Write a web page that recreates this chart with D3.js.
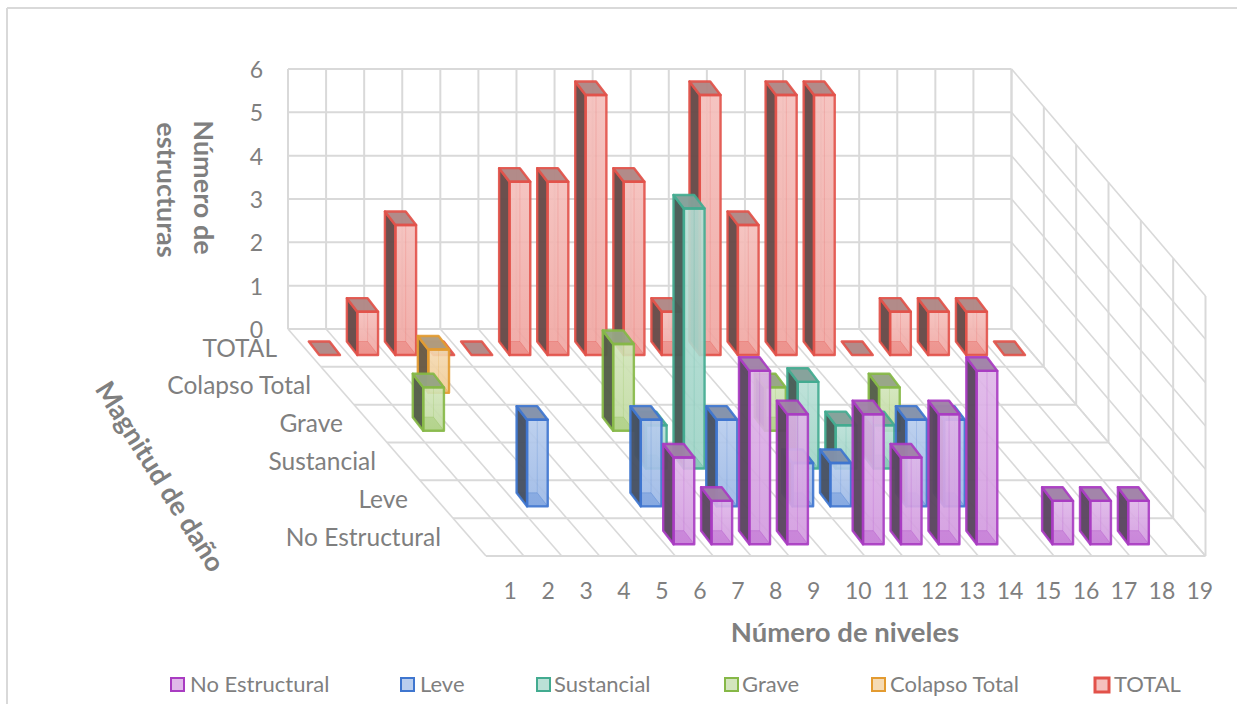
<!DOCTYPE html>
<html><head><meta charset="utf-8">
<script src="https://cdn.jsdelivr.net/npm/d3@7/dist/d3.min.js"></script>
<style>html,body{margin:0;padding:0;background:#fff;overflow:hidden}svg{display:block}
text{font-family:Lato,"Open Sans",sans-serif;fill:#7f7f7f}</style></head><body>
<script>
const categories = d3.range(1, 20).map(String);
const rowLabels = ["TOTAL", "Colapso Total", "Grave", "Sustancial", "Leve", "No Estructural"];
const valueTicks = [0, 1, 2, 3, 4, 5, 6];
const legendNames = ["No Estructural", "Leve", "Sustancial", "Grave", "Colapso Total", "TOTAL"];
const _ = null;
//                  1  2  3  4  5  6  7  8  9 10 11 12 13 14 15 16 17 18 19
const totalVals   = [0, 1, 3, 0, 0, 4, 4, 6, 4, 1, 6, 3, 6, 6, 0, 1, 1, 1, 0];
const colapsoVals = [_, _, 1, _, _, _, _, _, _, _, _, _, _, _, _, _, _, _, _];
const graveVals   = [_, 1, _, _, _, _, 2, _, _, _, 1, _, _, 1, _, _, _, _, _];
const sustVals    = [_, _, _, _, _, _, 1, 6, _, _, 2, 1, 1, _, _, _, _, _, _];
const leveVals    = [_, _, 2, _, _, 2, _, 2, _, 1, 1, _, 2, 2, _, _, _, _, _];
const noEstVals   = [_, _, _, _, _, 2, 1, 4, 3, _, 3, 2, 3, 4, _, 1, 1, 1, _];
const rowSeries = [totalVals, colapsoVals, graveVals, sustVals, leveVals, noEstVals];
const rowColors = ["#e2524a", "#e39b31", "#86b847", "#43ab90", "#3f76cf", "#a93cc2"];

const W = 1237, H = 704;
const svg = d3.select("body").append("svg").attr("width", W).attr("height", H);
const defs = svg.append("defs");

// projection: column c (0..19), depth row r (0..6), value v
const colBack  = d3.scaleLinear().domain([0, 19]).range([288, 1011.5]);
const colFront = d3.scaleLinear().domain([0, 19]).range([486, 1205.5]);
const depthY   = d3.scaleLinear().domain([0, 6]).range([329, 556]);
const valueH   = d3.scaleLinear().domain([0, 6]).range([0, 260]);
const tickX    = d3.scaleLinear().domain([0, 18]).range([503.5, 1186.5]);
const px = (c, r) => d3.interpolateNumber(colBack(c), colFront(c))(r / 6);
const py = (r, v) => depthY(r) - valueH(v);
const P = (c, r, v) => [px(c, r), py(r, v)];
const pts = a => a.map(p => p.join(",")).join(" ");

// frame
const gridCol = "#d9d9d9";
const line = (g, a, b, w) => g.append("line").attr("x1", a[0]).attr("y1", a[1]).attr("x2", b[0]).attr("y2", b[1])
  .attr("stroke", gridCol).attr("stroke-width", w);
const frame = svg.append("g");
line(frame, [7, H], [7, 8], 2);
line(frame, [7, 8], [W, 8], 2);

// grid
const grid = svg.append("g");
valueTicks.forEach(v => {
  line(grid, P(0, 0, v), P(19, 0, v), 2);
  line(grid, P(19, 0, v), P(19, 6, v), 1.6);
});
d3.range(0, 20).forEach(c => {
  line(grid, P(c, 0, 0), P(c, 0, 6), 2);
  line(grid, P(c, 0, 0), P(c, 6, 0), 1.6);
});
d3.range(0, 7).forEach(r => {
  line(grid, P(0, r, 0), P(19, r, 0), 2);
  line(grid, P(19, r, 0), P(19, r, 6), 2);
});

// gradients
rowColors.forEach((col, i) => {
  const g = defs.append("linearGradient").attr("id", "gr" + i).attr("x1", 0).attr("y1", 0).attr("x2", 0).attr("y2", 1);
  g.append("stop").attr("offset", 0).attr("stop-color", col).attr("stop-opacity", .32);
  g.append("stop").attr("offset", 1).attr("stop-color", col).attr("stop-opacity", .46);
});

// bars
const u0 = .225, u1 = .77, t0 = .33, t1 = .688, backShift = .035;
const bars = svg.append("g");
rowSeries.forEach((vals, r) => {
  const col = rowColors[r];
  const dark = d3.interpolateRgb("#484848", col)(.2);
  const topC = d3.interpolateRgb("#9c9c9c", col)(.28);
  vals.forEach((v, c) => {
    if (v === null) return;
    const g = bars.append("g");
    const lbf = P(c + u0, r + t1, 0), rbf = P(c + u1, r + t1, 0),
          lbb = P(c + u0 + backShift, r + t0, 0), rbb = P(c + u1 + backShift, r + t0, 0),
          ltf = P(c + u0, r + t1, v), rtf = P(c + u1, r + t1, v),
          ltb = P(c + u0 + backShift, r + t0, v), rtb = P(c + u1 + backShift, r + t0, v);
    const face = (a, fill, op, sw, so) => g.append("polygon").attr("points", pts(a))
      .attr("fill", fill).attr("fill-opacity", op).attr("stroke", col).attr("stroke-width", sw)
      .attr("stroke-opacity", so).attr("stroke-linejoin", "round");
    if (v > 0) {
      face([lbf, rbf, rtf, ltf], "#ffffff", .86, 0, 0); // veil over what stands behind
      face([lbb, rbb, rbf, lbf], col, .3, 1, .22);      // floor
      face([lbb, rbb, rtb, ltb], col, .03, 1, .1);      // back
      face([rbb, rbf, rtf, rtb], col, .03, 1, .1);      // right
      face([lbb, lbf, ltf, ltb], dark, .97, 2.4, .92);  // left
    }
    face([ltb, rtb, rtf, ltf], topC, .97, 2.4, .92);    // top
    if (v > 0) face([lbf, rbf, rtf, ltf], `url(#gr${r})`, 1, 2.4, .9); // front
  });
});

// labels
const T = (x, y, s, size, anchor, extra) => {
  const t = svg.append("text").attr("x", x).attr("y", y).attr("font-size", size)
    .attr("text-anchor", anchor || "start").attr("dominant-baseline", "central").text(s);
  if (extra) extra(t);
  return t;
};
const tickSize = 23, rowSize = 24.5;
valueTicks.forEach(v => T(263, py(0, v), v, tickSize, "end"));
categories.forEach((s, i) => T(tickX(i), 589.5, s, tickSize));
const rowRight = [277, 311, 343, 376, 408, 441];
rowLabels.forEach((s, i) => T(rowRight[i], depthY(i) + 18, s, rowSize, "end"));

const bold = t => t.attr("font-weight", 700);
T(845, 631, "Número de niveles", 27.5, "middle", bold);
const rot = (s, x, y) => T(0, 0, s, 27, "middle", t => bold(t).attr("transform", `translate(${x},${y}) rotate(90)`));
rot("Número de", 204, 187.5);
rot("estructuras", 167, 190);
T(0, 0, "Magnitud de daño", 27, "middle", t => t.attr("font-weight", 700).attr("transform", "translate(161,476) rotate(58)"));

// legend
const legendX = [170, 400, 536, 724, 871, 1094];
const legendTextX = [190, 420, 554, 742, 890, 1114];
legendNames.forEach((s, i) => {
  const col = rowColors[rowSeries.length - 1 - i];
  const big = i === 5;
  svg.append("rect").attr("x", legendX[i] + 1).attr("y", 678)
    .attr("width", big ? 14 : 13).attr("height", big ? 14 : 13)
    .attr("fill", col).attr("fill-opacity", .36).attr("stroke", col).attr("stroke-width", big ? 3 : 2);
  T(legendTextX[i], 683.5, s, 22);
});
</script></body></html>
